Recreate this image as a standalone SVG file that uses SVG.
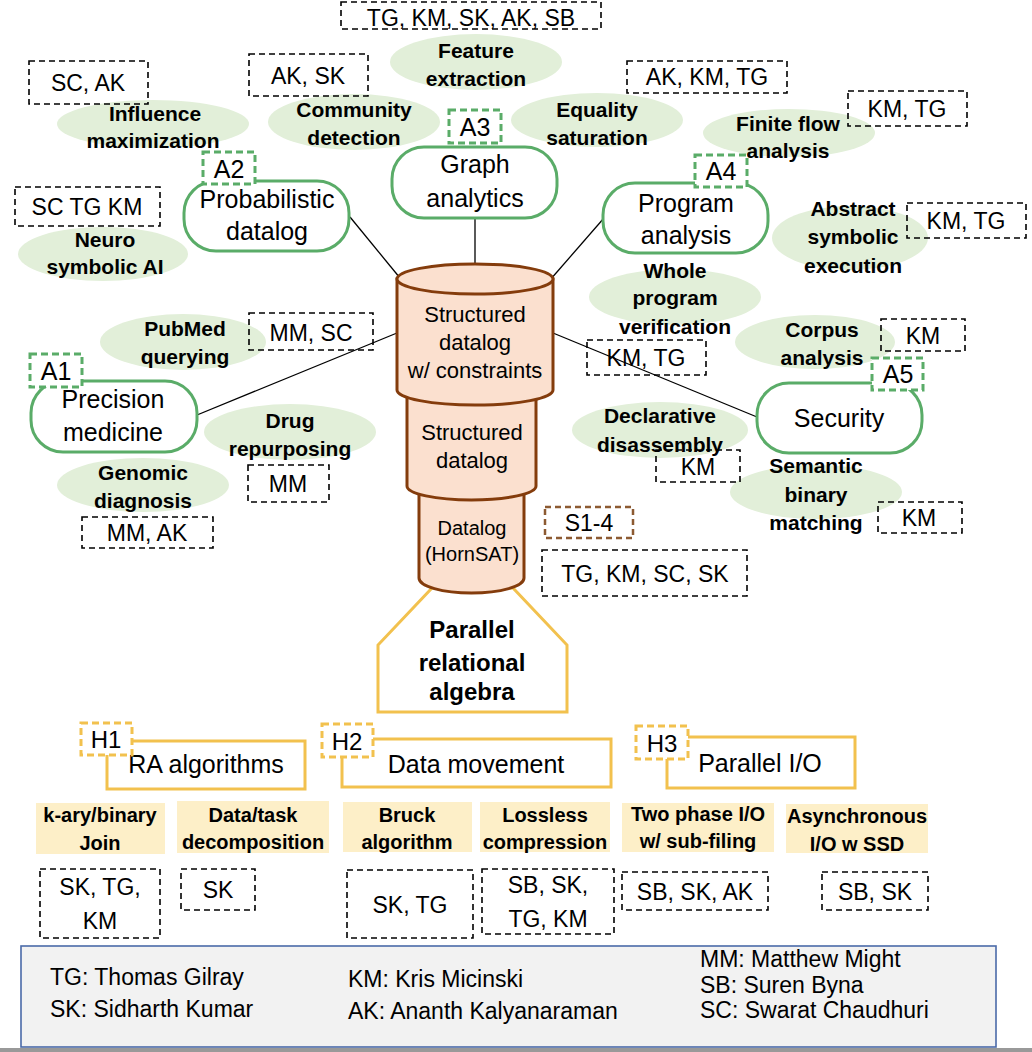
<svg xmlns="http://www.w3.org/2000/svg" width="1032" height="1052" viewBox="0 0 1032 1052">
<style>
text{font-family:"Liberation Sans",Arial,sans-serif;text-anchor:middle;fill:#000}
.b{font-weight:bold;font-size:21px}
.yb{font-weight:bold;font-size:20px}
.n{font-size:25px}
.a{font-size:23px}
.c{font-size:22px}
.lg{font-size:23px;text-anchor:start}
.ell{fill:#E2EFD9}
.pill{fill:#fff;stroke:#5aac68;stroke-width:3}
.ga{fill:#fff;stroke:#5aac68;stroke-width:3;stroke-dasharray:7 4}
.au{fill:none;stroke:#000;stroke-width:1.6;stroke-dasharray:6 4}
.hb{fill:#fff;stroke:#f2c14e;stroke-width:3}
.hl{fill:#fff;stroke:#f2c14e;stroke-width:3;stroke-dasharray:7 4}
.yr{fill:#FDEFC8}
.cyl{fill:#FBE0CF;stroke:#843C0C;stroke-width:3}
.con{stroke:#000;stroke-width:1.3;fill:none}
</style>
<rect width="1032" height="1052" fill="#fff"/>

<g id="connectors">
<line class="con" x1="350" y1="217" x2="400" y2="278"/>
<line class="con" x1="475" y1="218" x2="475" y2="266"/>
<line class="con" x1="604" y1="218" x2="550" y2="280"/>
<line class="con" x1="197" y1="415" x2="397" y2="333"/>
<line class="con" x1="553" y1="333" x2="757" y2="417"/>
</g>

<g id="ellipses">
<g id="e-feature"><ellipse class="ell" cx="476" cy="62" rx="86" ry="28"/><text class="b" x="476" y="58">Feature</text><text class="b" x="476" y="86">extraction</text></g>
<g id="e-community"><ellipse class="ell" cx="354" cy="122" rx="86" ry="28"/><text class="b" x="354" y="117">Community</text><text class="b" x="354" y="145">detection</text></g>
<g id="e-influence"><ellipse class="ell" cx="153" cy="124" rx="96" ry="24"/><text class="b" x="155" y="121">Influence</text><text class="b" x="153" y="148">maximization</text></g>
<g id="e-neuro"><ellipse class="ell" cx="103" cy="254" rx="85" ry="27"/><text class="b" x="105" y="247">Neuro</text><text class="b" x="105" y="274">symbolic AI</text></g>
<g id="e-equality"><ellipse class="ell" cx="597" cy="120" rx="86" ry="27"/><text class="b" x="597" y="117">Equality</text><text class="b" x="597" y="145">saturation</text></g>
<g id="e-finite"><ellipse class="ell" cx="789" cy="133" rx="86" ry="24"/><text class="b" x="788" y="131">Finite flow</text><text class="b" x="788" y="158">analysis</text></g>
<g id="e-abstract"><ellipse class="ell" cx="850" cy="238" rx="78" ry="32"/><text class="b" x="853" y="216">Abstract</text><text class="b" x="853" y="244">symbolic</text><text class="b" x="853" y="273">execution</text></g>
<g id="e-whole"><ellipse class="ell" cx="675" cy="297" rx="86" ry="28"/><text class="b" x="675" y="278">Whole</text><text class="b" x="675" y="305">program</text><text class="b" x="675" y="334">verification</text></g>
<g id="e-corpus"><ellipse class="ell" cx="815" cy="342" rx="80" ry="27"/><text class="b" x="822" y="337">Corpus</text><text class="b" x="822" y="365">analysis</text></g>
<g id="e-declarative"><ellipse class="ell" cx="660" cy="430" rx="88" ry="28"/><text class="b" x="660" y="423">Declarative</text><text class="b" x="660" y="452">disassembly</text></g>
<g id="e-semantic"><ellipse class="ell" cx="816" cy="492" rx="86" ry="27"/><text class="b" x="816" y="473">Semantic</text><text class="b" x="816" y="502">binary</text><text class="b" x="816" y="530">matching</text></g>
<g id="e-pubmed"><ellipse class="ell" cx="183" cy="342" rx="83" ry="28"/><text class="b" x="185" y="336">PubMed</text><text class="b" x="185" y="364">querying</text></g>
<g id="e-drug"><ellipse class="ell" cx="290" cy="432" rx="86" ry="28"/><text class="b" x="290" y="428">Drug</text><text class="b" x="290" y="456">repurposing</text></g>
<g id="e-genomic"><ellipse class="ell" cx="143" cy="485" rx="86" ry="27"/><text class="b" x="143" y="480">Genomic</text><text class="b" x="143" y="508">diagnosis</text></g>
</g>

<g id="authors">
<g><rect class="au" x="341" y="2" width="260" height="27"/><text class="a" x="471" y="26">TG, KM, SK, AK, SB</text></g>
<g><rect class="au" x="29" y="61" width="119" height="43"/><text class="a" x="88" y="91">SC, AK</text></g>
<g><rect class="au" x="249" y="54" width="119" height="42"/><text class="a" x="308" y="84">AK, SK</text></g>
<g><rect class="au" x="15" y="187" width="145" height="39"/><text class="a" x="87" y="215">SC TG KM</text></g>
<g><rect class="au" x="627" y="61" width="160" height="32"/><text class="a" x="707" y="85">AK, KM, TG</text></g>
<g><rect class="au" x="848" y="91" width="119" height="35"/><text class="a" x="907" y="117">KM, TG</text></g>
<g><rect class="au" x="907" y="203" width="119" height="35"/><text class="a" x="966" y="229">KM, TG</text></g>
<g><rect class="au" x="249" y="313" width="124" height="37"/><text class="a" x="311" y="341">MM, SC</text></g>
<g><rect class="au" x="248" y="465" width="81" height="37"/><text class="a" x="288" y="492">MM</text></g>
<g><rect class="au" x="82" y="517" width="131" height="31"/><text class="a" x="147" y="541">MM, AK</text></g>
<g><rect class="au" x="587" y="340" width="119" height="35"/><text class="a" x="646" y="366">KM, TG</text></g>
<g><rect class="au" x="881" y="319" width="84" height="32"/><text class="a" x="923" y="344">KM</text></g>
<g><rect class="au" x="656" y="450" width="84" height="32"/><text class="a" x="698" y="475">KM</text></g>
<g><rect class="au" x="878" y="502" width="84" height="31"/><text class="a" x="919" y="526">KM</text></g>
<g><rect class="au" x="545" y="507" width="88" height="31" style="stroke:#8c5a32;stroke-width:2.5"/><text class="a" x="589" y="531">S1-4</text></g>
<g><rect class="au" x="542" y="550" width="205" height="46"/><text class="a" x="645" y="582">TG, KM, SC, SK</text></g>
<g><rect class="au" x="40" y="869" width="120" height="69"/><text class="a" x="100" y="895">SK, TG,</text><text class="a" x="100" y="929">KM</text></g>
<g><rect class="au" x="181" y="869" width="74" height="41"/><text class="a" x="218" y="898">SK</text></g>
<g><rect class="au" x="347" y="870" width="126" height="68"/><text class="a" x="410" y="913">SK, TG</text></g>
<g><rect class="au" x="482" y="869" width="132" height="65"/><text class="a" x="548" y="893">SB, SK,</text><text class="a" x="548" y="927">TG, KM</text></g>
<g><rect class="au" x="622" y="872" width="146" height="38"/><text class="a" x="695" y="900">SB, SK, AK</text></g>
<g><rect class="au" x="822" y="872" width="106" height="38"/><text class="a" x="875" y="900">SB, SK</text></g>
</g>

<g id="node-probabilistic"><rect class="pill" x="184" y="181" width="165" height="70" rx="32"/><text class="n" x="267" y="208">Probabilistic</text><text class="n" x="267" y="240">datalog</text><rect class="ga" x="203" y="152" width="52" height="32"/><text class="n" x="229" y="178">A2</text></g>
<g id="node-graph"><rect class="pill" x="392" y="147" width="165" height="71" rx="32"/><text class="n" x="475" y="173">Graph</text><text class="n" x="475" y="207">analytics</text><rect class="ga" x="449" y="110" width="52" height="33"/><text class="n" x="475" y="136">A3</text></g>
<g id="node-program"><rect class="pill" x="603" y="183" width="165" height="70" rx="32"/><text class="n" x="686" y="212">Program</text><text class="n" x="686" y="244">analysis</text><rect class="ga" x="695" y="155" width="52" height="32"/><text class="n" x="721" y="180">A4</text></g>
<g id="node-precision"><rect class="pill" x="31" y="381" width="166" height="71" rx="32"/><text class="n" x="113" y="408">Precision</text><text class="n" x="113" y="441">medicine</text><rect class="ga" x="30" y="354" width="52" height="33"/><text class="n" x="56" y="380">A1</text></g>
<g id="node-security"><rect class="pill" x="757" y="383" width="165" height="70" rx="32"/><text class="n" x="839" y="427">Security</text><rect class="ga" x="872" y="358" width="51" height="32"/><text class="n" x="898" y="383">A5</text></g>

<g id="node-parallel-ra">
<polygon points="432,588 513,588 567,645 567,712 378,712 378,645" fill="#fff" stroke="#f2c14e" stroke-width="3"/>
<text class="b" style="font-size:24px" x="472" y="638">Parallel</text>
<text class="b" style="font-size:24px" x="472" y="671">relational</text>
<text class="b" style="font-size:24px" x="472" y="700">algebra</text>
</g>

<g id="node-datalog">
<path d="M419,480 L419,578 A52.5,15 0 0 0 524,578 L524,480" class="cyl"/>
<text class="c" style="font-size:20px" x="472" y="535">Datalog</text>
<text class="c" style="font-size:20px" x="472" y="561">(HornSAT)</text>
</g>
<g id="node-structured">
<path d="M407,385 L407,486 A64.5,14 0 0 0 536,486 L536,385" class="cyl"/>
<text class="c" x="472" y="440">Structured</text>
<text class="c" x="472" y="468">datalog</text>
</g>
<g id="node-constraints">
<path d="M397,279 L397,390 A78,15 0 0 0 553,390 L553,279 Z" class="cyl"/>
<ellipse cx="475" cy="279" rx="78" ry="15" class="cyl"/>
<text class="c" x="475" y="322">Structured</text>
<text class="c" x="475" y="350">datalog</text>
<text class="c" x="475" y="378">w/ constraints</text>
</g>

<g id="node-h1"><rect class="hb" x="107" y="741" width="198" height="48"/><text class="n" x="206" y="773">RA algorithms</text><rect class="hl" x="81" y="723" width="51" height="32"/><text class="n" style="font-size:24px" x="106" y="748">H1</text></g>
<g id="node-h2"><rect class="hb" x="342" y="739" width="269" height="48"/><text class="n" x="476" y="773">Data movement</text><rect class="hl" x="322" y="724" width="51" height="33"/><text class="n" style="font-size:24px" x="347" y="750">H2</text></g>
<g id="node-h3"><rect class="hb" x="667" y="737" width="188" height="51"/><text class="n" x="760" y="772">Parallel I/O</text><rect class="hl" x="636" y="726" width="52" height="33"/><text class="n" style="font-size:24px" x="662" y="752">H3</text></g>

<g id="node-kary"><rect class="yr" x="36" y="803" width="129" height="51"/><text class="yb" x="100" y="822">k-ary/binary</text><text class="yb" x="100" y="850">Join</text></g>
<g id="node-decomp"><rect class="yr" x="177" y="801" width="152" height="52"/><text class="yb" x="253" y="822">Data/task</text><text class="yb" x="253" y="849">decomposition</text></g>
<g id="node-bruck"><rect class="yr" x="343" y="802" width="129" height="50"/><text class="yb" x="407" y="822">Bruck</text><text class="yb" x="407" y="849">algorithm</text></g>
<g id="node-lossless"><rect class="yr" x="480" y="802" width="130" height="50"/><text class="yb" x="545" y="822">Lossless</text><text class="yb" x="545" y="849">compression</text></g>
<g id="node-twophase"><rect class="yr" x="622" y="803" width="152" height="49"/><text class="yb" x="698" y="821">Two phase I/O</text><text class="yb" x="698" y="848">w/ sub-filing</text></g>
<g id="node-async"><rect class="yr" x="786" y="804" width="142" height="49"/><text class="yb" x="857" y="823">Asynchronous</text><text class="yb" x="857" y="851">I/O w SSD</text></g>

<g id="legend">
<rect x="21" y="946" width="975" height="101" fill="#f2f2f2" stroke="#4a6aa8" stroke-width="1.6"/>
<text class="lg" x="50" y="985">TG: Thomas Gilray</text>
<text class="lg" x="50" y="1017">SK: Sidharth Kumar</text>
<text class="lg" x="348" y="987">KM: Kris Micinski</text>
<text class="lg" x="348" y="1019">AK: Ananth Kalyanaraman</text>
<text class="lg" x="700" y="967">MM: Matthew Might</text>
<text class="lg" x="700" y="993">SB: Suren Byna</text>
<text class="lg" x="700" y="1018">SC: Swarat Chaudhuri</text>
</g>
<rect x="0" y="1048" width="1032" height="4" fill="#999"/>
</svg>
